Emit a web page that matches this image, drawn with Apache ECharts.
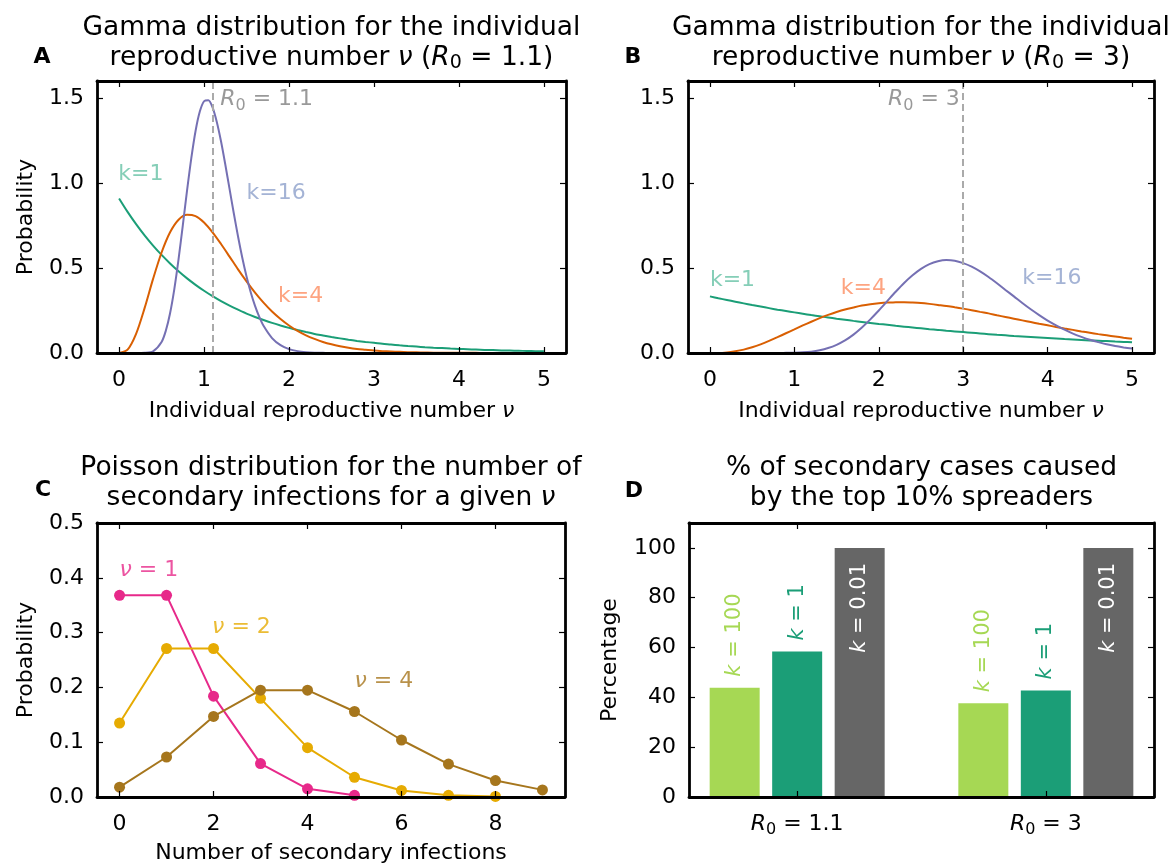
<!DOCTYPE html>
<html><head><meta charset="utf-8">
<script src="https://cdn.jsdelivr.net/npm/echarts@6/dist/echarts.min.js"></script>
<style>html,body{margin:0;padding:0;background:#fff}#c{width:1174px;height:866px}</style>
</head><body><div id="c"></div>
<script>
// ---------------- DATA ----------------
const nuGrid = [0,0.1,0.2,0.3,0.4,0.5,0.6,0.7,0.8,0.9,1.0,1.1,1.2,1.3,1.4,1.5,1.6,1.7,1.8,1.9,2.0,2.1,2.2,2.3,2.4,2.5,2.6,2.7,2.8,2.9,3.0,3.1,3.2,3.3,3.4,3.5,3.6,3.7,3.8,3.9,4.0,4.1,4.2,4.3,4.4,4.5,4.6,4.7,4.8,4.9,5.0];
// finer grid used for the narrow k=16 curve of panel A
const nuGridFineA = [0,0.1,0.2,0.3,0.4,0.5,0.55,0.6,0.65,0.7,0.75,0.8,0.85,0.9,0.95,1.0,1.05,1.1,1.15,1.2,1.25,1.3,1.35,1.4,1.45,1.5,1.55,1.6,1.65,1.7,1.8,1.9,2.0,2.1,2.2,2.3,2.4,2.5,3.0,4.0,5.0];
// Panel A (R0 = 1.1)
const gammaA_k1 = [0.909,0.830,0.758,0.692,0.632,0.577,0.527,0.481,0.439,0.401,0.366,0.334,0.305,0.279,0.255,0.232,0.212,0.194,0.177,0.162,0.148,0.135,0.123,0.112,0.103,0.094,0.086,0.078,0.071,0.065,0.060,0.054,0.050,0.045,0.041,0.038,0.034,0.031,0.029,0.026,0.024,0.022,0.020,0.018,0.017,0.015,0.014,0.013,0.012,0.011,0.010];
const gammaA_k4 = [0,0.020,0.113,0.264,0.436,0.591,0.710,0.784,0.813,0.805,0.768,0.710,0.641,0.567,0.492,0.421,0.355,0.296,0.244,0.200,0.162,0.130,0.104,0.083,0.065,0.051,0.040,0.031,0.024,0.019,0.014,0.011,0.009,0.007,0.005,0.004,0.003,0.002,0.002,0.001,0.001,0.001,0.001,0,0,0,0,0,0,0,0];
const gammaA_k16 = [0,0,0,0.001,0.010,0.065,0.131,0.234,0.376,0.552,0.751,0.956,1.146,1.306,1.420,1.481,1.487,1.445,1.359,1.244,1.109,0.965,0.822,0.685,0.560,0.450,0.356,0.277,0.212,0.160,0.088,0.046,0.023,0.011,0.005,0.002,0.001,0,0,0,0];
// Panel B (R0 = 3)
const gammaB_k1 = [0.333,0.322,0.312,0.302,0.292,0.282,0.273,0.264,0.255,0.247,0.239,0.231,0.223,0.216,0.209,0.202,0.196,0.189,0.183,0.177,0.171,0.166,0.160,0.155,0.150,0.145,0.140,0.136,0.131,0.127,0.123,0.119,0.115,0.111,0.107,0.104,0.100,0.097,0.094,0.091,0.088,0.085,0.082,0.080,0.077,0.074,0.072,0.070,0.067,0.065,0.063];
const gammaB_k4 = [0,0.000,0.003,0.010,0.020,0.034,0.051,0.071,0.093,0.116,0.139,0.162,0.184,0.205,0.224,0.241,0.256,0.268,0.279,0.287,0.293,0.297,0.298,0.299,0.297,0.294,0.289,0.283,0.277,0.269,0.261,0.252,0.242,0.233,0.222,0.212,0.202,0.192,0.182,0.172,0.163,0.153,0.144,0.136,0.127,0.119,0.111,0.104,0.097,0.090,0.084];
const gammaB_k16 = [0,0,0,0,0,0,0,0,0,0.001,0.002,0.004,0.008,0.016,0.029,0.048,0.074,0.108,0.150,0.198,0.250,0.305,0.360,0.412,0.457,0.495,0.523,0.540,0.547,0.543,0.529,0.508,0.480,0.447,0.410,0.371,0.333,0.294,0.257,0.223,0.191,0.163,0.137,0.114,0.095,0.078,0.064,0.051,0.041,0.033,0.026];
const R0values = [1.1, 3];
// Panel C (Poisson)
const secondaryInfections = [0,1,2,3,4,5,6,7,8,9];
const poisNu1 = [0.368,0.368,0.184,0.061,0.015,0.003];
const poisNu2 = [0.135,0.271,0.271,0.180,0.090,0.036,0.012,0.003,0.001];
const poisNu4 = [0.018,0.073,0.147,0.195,0.195,0.156,0.104,0.060,0.030,0.013];
// Panel D (bars)
const barGroupPos = [0, 1];
const barGroupLabels = ['1.1', '3'];
const kLabels = ['100', '1', '0.01'];
const topShareK100 = [43.9, 37.6];
const topShareK1 = [58.4, 42.8];
const topShareK001 = [100, 100];
// ticks
const xTicksGamma = [0,1,2,3,4,5];
const yTicksGamma = [0,0.5,1.0,1.5];
const xTicksPois = [0,2,4,6,8];
const yTicksPois = [0,0.1,0.2,0.3,0.4,0.5];
const yTicksPct = [0,20,40,60,80,100];

// ---------------- STYLE / BUILD ----------------
const FONT = 'DejaVu Sans';
const FS = 22;
function rich(color, size) {
  size = size || FS;
  const s = Math.round(size * 0.72);
  return {
    it: { fontStyle: 'italic', fontFamily: FONT, fontSize: size, color: color },
    sub: { fontFamily: FONT, fontSize: s, lineHeight: s, verticalAlign: 'bottom', color: color }
  };
}
const AXLINE = { color: '#000', width: 2.8 };
const TICK = { color: '#000', width: 1.2 };
function pairs(xs, ys) { return ys.map((y, i) => [xs[i], y]); }

function xPair(gi, min, max, ticks, fmt, name, gap) {
  const base = { type: 'value', gridIndex: gi, min, max, z: 10,
    axisLine: { show: true, onZero: false, lineStyle: AXLINE },
    axisTick: { show: true, inside: true, length: 6, customValues: ticks, lineStyle: TICK },
    splitLine: { show: false } };
  return [
    Object.assign({}, base, { position: 'bottom',
      axisLabel: { show: true, customValues: ticks, formatter: fmt, margin: 13, color: '#000', fontSize: FS, fontFamily: FONT, lineHeight: 28, rich: rich('#000') },
      name: name, nameLocation: 'middle', nameGap: gap,
      nameTextStyle: { color: '#000', fontSize: FS, fontFamily: FONT, rich: rich('#000') } }),
    Object.assign({}, base, { position: 'top', axisLabel: { show: false } })
  ];
}
function yPair(gi, min, max, ticks, fmt, name, gap) {
  const base = { type: 'value', gridIndex: gi, min, max, z: 10,
    axisLine: { show: true, onZero: false, lineStyle: AXLINE },
    axisTick: { show: true, inside: true, length: 6, customValues: ticks, lineStyle: TICK },
    splitLine: { show: false } };
  return [
    Object.assign({}, base, { position: 'left',
      axisLabel: { show: true, customValues: ticks, formatter: fmt, margin: 13, color: '#000', fontSize: FS, fontFamily: FONT },
      name: name, nameLocation: 'middle', nameGap: gap, nameRotate: 90,
      nameTextStyle: { color: '#000', fontSize: FS, fontFamily: FONT } }),
    Object.assign({}, base, { position: 'right', axisLabel: { show: false } })
  ];
}
const f1 = v => v.toFixed(1);
const f0 = v => String(Math.round(v));

const xAxis = [].concat(
  xPair(0, -0.26, 5.26, xTicksGamma, f0, 'Individual reproductive number {it|ν}', 47),
  xPair(1, -0.26, 5.26, xTicksGamma, f0, 'Individual reproductive number {it|ν}', 47),
  xPair(2, -0.48, 9.48, xTicksPois, f0, 'Number of secondary infections', 45),
  xPair(3, -0.435, 1.435, barGroupPos, v => '{it|R}{sub|0} = ' + barGroupLabels[barGroupPos.indexOf(Math.round(v))], '', 40)
);
const yAxis = [].concat(
  yPair(0, 0, 1.6, yTicksGamma, f1, 'Probability', 60),
  yPair(1, 0, 1.6, yTicksGamma, f1, '', 60),
  yPair(2, 0, 0.5, yTicksPois, f1, 'Probability', 60),
  yPair(3, 0, 110, yTicksPct, f0, 'Percentage', 68)
);
// bottom/left axis indices per grid: 0,2,4,6

function curve(ai, xs, ys, color, extra) {
  return Object.assign({ type: 'line', xAxisIndex: ai, yAxisIndex: ai, data: pairs(xs, ys),
    showSymbol: false, smooth: 0.3, lineStyle: { color, width: 2 }, itemStyle: { color }, silent: true }, extra || {});
}
function refLine(v) {
  return { silent: true, symbol: 'none', label: { show: false },
    lineStyle: { type: [7, 4], color: '#aaaaaa', width: 2 }, data: [{ xAxis: v }] };
}
function pois(ys, color) {
  return { type: 'line', xAxisIndex: 4, yAxisIndex: 4, data: pairs(secondaryInfections, ys),
    symbol: 'circle', symbolSize: 11, showSymbol: true, lineStyle: { color, width: 2 },
    itemStyle: { color, borderWidth: 0 }, silent: true };
}
function annot(ai, items) {
  return { type: 'scatter', xAxisIndex: ai, yAxisIndex: ai, symbolSize: 0, silent: true, z: 6, clip: false,
    data: items.map(it => ({ value: [it.x, it.y],
      label: { show: true, position: it.pos || 'right', distance: 0, formatter: it.text, color: it.color,
        fontSize: FS, fontFamily: FONT, lineHeight: 28, rich: rich(it.color) } })) };
}
function bars(vals, color, idx, inside) {
  const lab = inside
    ? { show: true, position: 'insideTop', distance: 15, rotate: 90, align: 'right', verticalAlign: 'middle' }
    : { show: true, position: 'top', distance: 11, rotate: 90, align: 'left', verticalAlign: 'middle' };
  const txtColor = inside ? '#ffffff' : color;
  Object.assign(lab, { formatter: '{it|k} = ' + kLabels[idx], color: txtColor, fontSize: 21, fontFamily: FONT, rich: rich(txtColor, 21) });
  return { type: 'bar', xAxisIndex: 6, yAxisIndex: 6, barWidth: 50, barGap: '25%',
    data: pairs(barGroupPos, vals), itemStyle: { color }, label: lab, silent: true };
}

const series = [
  curve(0, nuGrid, gammaA_k1, '#1b9e77', { markLine: refLine(R0values[0]) }),
  curve(0, nuGrid, gammaA_k4, '#d95f02'),
  curve(0, nuGridFineA, gammaA_k16, '#7570b3'),
  annot(0, [
    { x: -0.01, y: 1.05, text: 'k=1', color: '#66c2a5' },
    { x: 1.50, y: 0.94, text: 'k=16', color: '#8da0cb' },
    { x: 1.87, y: 0.335, text: 'k=4', color: '#fc8d62' },
    { x: 1.19, y: 1.49, text: '{it|R}{sub|0} = 1.1', color: '#7f7f7f' }
  ]),
  curve(2, nuGrid, gammaB_k1, '#1b9e77', { markLine: refLine(R0values[1]) }),
  curve(2, nuGrid, gammaB_k4, '#d95f02'),
  curve(2, nuGrid, gammaB_k16, '#7570b3'),
  annot(2, [
    { x: 0.0, y: 0.43, text: 'k=1', color: '#66c2a5' },
    { x: 1.55, y: 0.38, text: 'k=4', color: '#fc8d62' },
    { x: 3.70, y: 0.44, text: 'k=16', color: '#8da0cb' },
    { x: 2.96, y: 1.49, text: '{it|R}{sub|0} = 3', color: '#7f7f7f', pos: 'left' }
  ]),
  pois(poisNu1, '#e7298a'),
  pois(poisNu2, '#e6ab02'),
  pois(poisNu4, '#a6761d'),
  annot(4, [
    { x: 0.0, y: 0.414, text: '{it|ν} = 1', color: '#e7298a' },
    { x: 1.97, y: 0.31, text: '{it|ν} = 2', color: '#e6ab02' },
    { x: 5.0, y: 0.212, text: '{it|ν} = 4', color: '#a6761d' }
  ]),
  bars(topShareK100, '#a6d854', 0, false),
  bars(topShareK1, '#1b9e77', 1, false),
  bars(topShareK001, '#666666', 2, true)
];

function titleText(x, y, text) {
  const fs = 26.5, s = 19;
  return { type: 'text', x, y, silent: true, style: { text, fill: '#000', fontSize: fs, fontFamily: FONT,
    align: 'center', verticalAlign: 'top', lineHeight: 30,
    rich: {
      it: { fontStyle: 'italic', fontSize: fs, fontFamily: FONT, fill: '#000', lineHeight: 30 },
      sub: { fontSize: s, fontFamily: FONT, fill: '#000', lineHeight: s, verticalAlign: 'bottom' }
    } } };
}
function letter(x, y, t) {
  return { type: 'text', x, y, silent: true, style: { text: t, fill: '#000', fontSize: 22, fontWeight: 'bold', fontFamily: FONT, align: 'center', verticalAlign: 'middle' } };
}

const option = {
  animation: false,
  backgroundColor: '#fff',
  grid: [
    { left: 97, top: 81, width: 469, height: 272, outerBoundsMode: 'none', containLabel: false },
    { left: 688, top: 81, width: 466, height: 272, outerBoundsMode: 'none', containLabel: false },
    { left: 97, top: 523, width: 468, height: 274, outerBoundsMode: 'none', containLabel: false },
    { left: 689, top: 523, width: 465, height: 274, outerBoundsMode: 'none', containLabel: false }
  ],
  xAxis, yAxis, series,
  graphic: [
    titleText(331.5, 13, 'Gamma distribution for the individual\nreproductive number {it|ν} ({it|R}{sub|0} = 1.1)'),
    titleText(921, 13, 'Gamma distribution for the individual\nreproductive number {it|ν} ({it|R}{sub|0} = 3)'),
    titleText(331, 453, 'Poisson distribution for the number of\nsecondary infections for a given {it|ν}'),
    titleText(921.5, 453, '% of secondary cases caused\nby the top 10% spreaders'),
    letter(42, 57, 'A'), letter(633, 57, 'B'), letter(43, 490, 'C'), letter(634, 491, 'D')
  ]
};
const chart = echarts.init(document.getElementById('c'), null, { renderer: 'canvas' });
chart.setOption(option);
</script></body></html>
